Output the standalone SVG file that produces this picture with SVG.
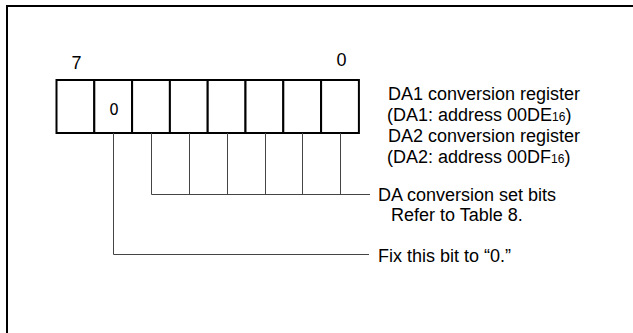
<svg xmlns="http://www.w3.org/2000/svg" width="633" height="333" viewBox="0 0 633 333">
<style>
.t{font-family:"Liberation Sans",Arial,sans-serif;font-size:18px;fill:#000}
.s{font-size:12px}
.cell{fill:#fff;stroke:#000;stroke-width:2}
.c{fill:none;stroke:#444;stroke-width:1}
</style>
<rect width="633" height="333" fill="#fff"/>
<path d="M7,333 V6 H633" fill="none" stroke="#000" stroke-width="2"/>
<g id="register">
<rect class="cell" x="56.5" y="80" width="37.8" height="53"/>
<rect class="cell" x="94.3" y="80" width="37.8" height="53"/>
<rect class="cell" x="132.1" y="80" width="37.8" height="53"/>
<rect class="cell" x="169.9" y="80" width="37.8" height="53"/>
<rect class="cell" x="207.7" y="80" width="37.8" height="53"/>
<rect class="cell" x="245.5" y="80" width="37.8" height="53"/>
<rect class="cell" x="283.3" y="80" width="37.8" height="53"/>
<rect class="cell" x="321.1" y="80" width="37.8" height="53"/>
<text x="114" y="115" text-anchor="middle" font-family="DejaVu Sans,sans-serif" font-size="15">0</text>
</g>
<g id="bit-labels">
<text class="t" x="76.5" y="69" text-anchor="middle">7</text>
<text class="t" x="341.5" y="66" text-anchor="middle">0</text>
</g>
<g id="connectors">
<path class="c" d="M113.5,133 V254.5 H369"/>
<path class="c" d="M151.5,133 V194.5 H370 M189.5,133 V194.5 M227.5,133 V194.5 M265.5,133 V194.5 M302.5,133 V194.5 M340.5,133 V194.5"/>
</g>
<g id="register-name">
<text class="t" x="388" y="100">DA1 conversion register</text>
<text class="t" x="387" y="121">(DA1: address 00DE<tspan class="s">16</tspan>)</text>
<text class="t" x="388" y="142">DA2 conversion register</text>
<text class="t" x="387" y="163">(DA2: address 00DF<tspan class="s">16</tspan>)</text>
</g>
<g id="set-bits-label">
<text class="t" x="378" y="200.5">DA conversion set bits</text>
<text class="t" x="391" y="221">Refer to Table 8.</text>
</g>
<g id="fix-label">
<text class="t" x="378" y="262">Fix this bit to “0.”</text>
</g>
</svg>
